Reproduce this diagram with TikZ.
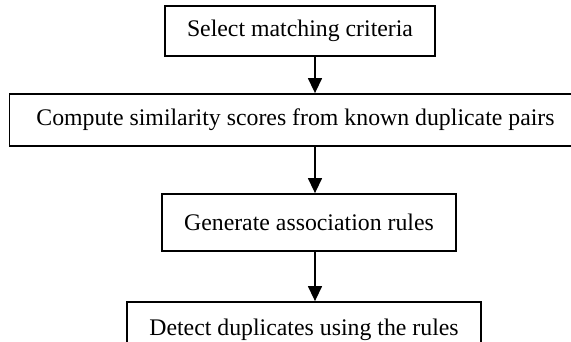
\documentclass[tikz,border=0pt]{standalone}
\usepackage{fontspec}
\setmainfont{Liberation Serif}
\usetikzlibrary{arrows.meta,positioning}

\begin{document}
\begin{tikzpicture}[
  x=1pt, y=-1pt,
  box/.style={rectangle, draw=black, line width=1.8pt,
              minimum height=50pt, inner sep=0pt,
              align=center, font=\fontsize{23.8}{28}\selectfont},
  arrow/.style={-{Triangle[width=14pt,length=15pt]}, line width=1.4pt}
]
\clip (0,0) rectangle (571,341);

\node[box, minimum width=270pt]                  (select)  at (300,31)    {Select matching criteria};
\node[box, minimum width=572pt, minimum height=52pt] (compute) at (295.5,120) {Compute similarity scores from known duplicate pairs};
\node[box, minimum width=294pt, minimum height=57pt] (rules)   at (309,222.5) {Generate association rules};
\node[box, minimum width=354pt, minimum height=55pt] (detect)  at (304,329.5) {Detect duplicates using the rules};

% arrows sit a bit right of the box centres
\coordinate (axis) at (315,0);

% Main flow
\draw[arrow] (select.south -| axis)  -- (compute.north -| axis);
\draw[arrow] (compute.south -| axis) -- (rules.north -| axis);
\draw[arrow] (rules.south -| axis)   -- (detect.north -| axis);

\end{tikzpicture}
\end{document}
